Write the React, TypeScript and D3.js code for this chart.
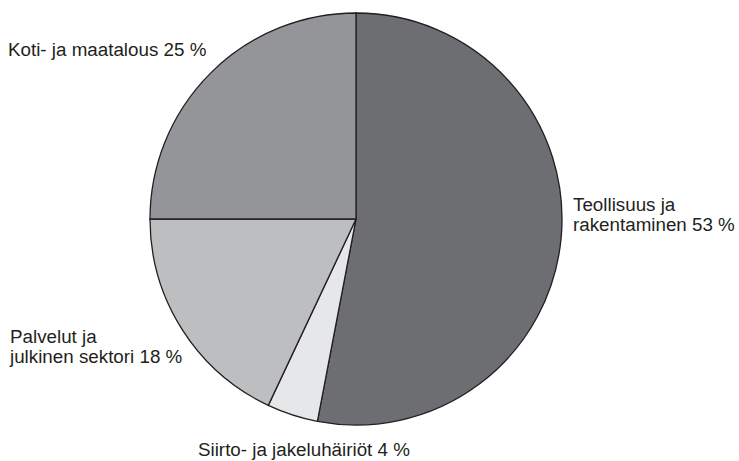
import React from "react";
import * as d3 from "d3";

const categories = [
  "Teollisuus ja rakentaminen",
  "Siirto- ja jakeluhäiriöt",
  "Palvelut ja julkinen sektori",
  "Koti- ja maatalous",
];
const shares = [53, 4, 18, 25];
const colors = ["#6d6e71", "#e6e7e8", "#bcbec0", "#939598"];

// Label lines per slice (same order as categories)
const labelLines = [
  ["Teollisuus ja", "rakentaminen 53 %"],
  ["Siirto- ja jakeluhäiriöt 4 %"],
  ["Palvelut ja", "julkinen sektori 18 %"],
  ["Koti- ja maatalous 25 %"],
];
const labelPos = [
  { x: 573, y: 211 },
  { x: 198, y: 456 },
  { x: 10, y: 343 },
  { x: 8, y: 56 },
];

const W = 739;
const H = 461;
const cx = 356;
const cy = 219;
const R = 206;

export default function App() {
  const data = categories.map((c, i) => ({ name: c, value: shares[i], i }));
  const pie = d3
    .pie<{ name: string; value: number; i: number }>()
    .value((d) => d.value)
    .sort(null);
  const arc = d3
    .arc<d3.PieArcDatum<{ name: string; value: number; i: number }>>()
    .innerRadius(0)
    .outerRadius(R);
  const arcs = pie(data);

  return (
    <svg
      width={W}
      height={H}
      style={{ position: "absolute", left: 0, top: 0, background: "#ffffff" }}
    >
      <g transform={`translate(${cx},${cy})`}>
        {arcs.map((a) => (
          <path
            key={a.data.name}
            d={arc(a) || ""}
            fill={colors[a.data.i]}
            stroke="#231f20"
            strokeWidth={1.3}
            strokeLinejoin="miter"
          />
        ))}
      </g>
      {labelLines.map((lines, i) => (
        <text
          key={categories[i]}
          x={labelPos[i].x}
          y={labelPos[i].y}
          fontFamily="'Liberation Sans', Arial, sans-serif"
          fontSize={18.8}
          fill="#231f20"
        >
          {lines.map((l, j) => (
            <tspan key={j} x={labelPos[i].x} dy={j === 0 ? 0 : 20}>
              {l}
            </tspan>
          ))}
        </text>
      ))}
    </svg>
  );
}
